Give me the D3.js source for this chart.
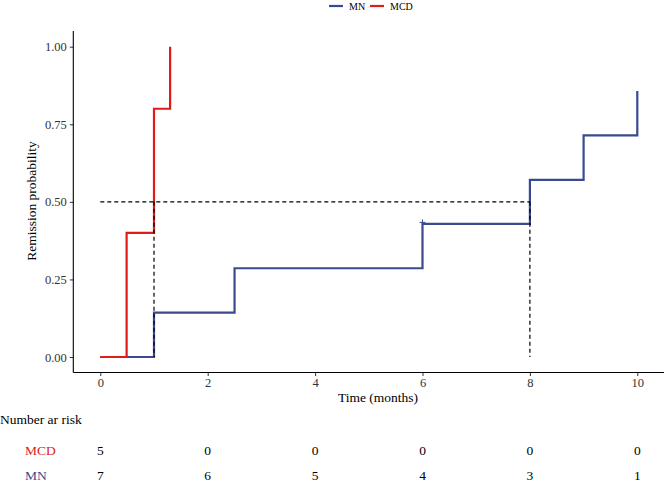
<!DOCTYPE html>
<html>
<head>
<meta charset="utf-8">
<script src="https://cdn.jsdelivr.net/npm/d3@7"></script>
<style>
  body { margin: 0; background: #fff; }
</style>
</head>
<body>
<div id="km"></div>
<script>
// data
var groups = ["MN", "MCD"];
var colors = ["#3B4992", "#E01B1B"];

var mnTime = [0, 1.0, 2.5, 6.0, 8.0, 9.0, 10.0];
var mnProb = [0, 0.143, 0.286, 0.429, 0.571, 0.714, 0.857];
var mcdTime = [0, 0.49, 1.0, 1.3];
var mcdProb = [0, 0.4, 0.8, 1.0];

var censorTime = [6.0];
var censorProb = [0.429];

var medianTime = [1.0, 8.0];
var medianProb = 0.5;

var xTicks = [0, 2, 4, 6, 8, 10];
var yTicks = [0, 0.25, 0.5, 0.75, 1];

var riskTimes = [0, 2, 4, 6, 8, 10];
var riskMCD = [5, 0, 0, 0, 0, 0];
var riskMN = [7, 6, 5, 4, 3, 1];

// dimensions
var width = 669, height = 486;
var panel = {left: 73.3, right: 664, top: 31, bottom: 372.5};
var serif = "'Liberation Serif', 'Times New Roman', 'DejaVu Serif', serif";

var svg = d3.select("#km")
  .append("svg")
    .attr("width", width)
    .attr("height", height)
    .attr("font-family", serif)
    .style("font-family", serif);

var x = d3.scaleLinear()
  .domain([0, 10])
  .range([100.3, 637.3]);

var y = d3.scaleLinear()
  .domain([0, 1])
  .range([357, 46.7]);

// axes
var xAxis = svg.append("g")
    .attr("transform", "translate(0," + panel.bottom + ")")
    .call(d3.axisBottom(x).tickValues(xTicks).tickSize(3.5).tickSizeOuter(0).tickPadding(2));
xAxis.select(".domain").remove();
xAxis.attr("font-family", serif);
xAxis.selectAll("line").attr("stroke", "#333");
xAxis.selectAll("text")
    .attr("font-size", 12.5)
    .attr("fill", "#333");

var yAxis = svg.append("g")
    .attr("transform", "translate(" + panel.left + ",0)")
    .call(d3.axisLeft(y).tickValues(yTicks).tickFormat(d3.format(".2f")).tickSize(3.5).tickSizeOuter(0).tickPadding(3));
yAxis.select(".domain").remove();
yAxis.attr("font-family", serif);
yAxis.selectAll("line").attr("stroke", "#333");
yAxis.selectAll("text")
    .attr("font-size", 12.5)
    .attr("fill", "#333");

svg.append("line")
    .attr("x1", panel.left).attr("x2", panel.right)
    .attr("y1", panel.bottom).attr("y2", panel.bottom)
    .attr("stroke", "#000").attr("stroke-width", 1.1);
svg.append("line")
    .attr("x1", panel.left).attr("x2", panel.left)
    .attr("y1", panel.top).attr("y2", panel.bottom)
    .attr("stroke", "#000").attr("stroke-width", 1.1);

// axis titles
svg.append("text")
    .attr("x", 378)
    .attr("y", 402)
    .attr("text-anchor", "middle")
    .attr("font-size", 13.5)
    .text("Time (months)");

svg.append("text")
    .attr("transform", "translate(36,201) rotate(-90)")
    .attr("text-anchor", "middle")
    .attr("font-size", 13.5)
    .text("Remission probability");

// step curves
var step = d3.line()
  .x(function(d) { return x(d[0]); })
  .y(function(d) { return y(d[1]); })
  .curve(d3.curveStepAfter);

var curves = [d3.zip(mnTime, mnProb), d3.zip(mcdTime, mcdProb)];

svg.selectAll("path.km")
  .data(curves)
  .enter()
  .append("path")
    .attr("class", "km")
    .attr("d", step)
    .attr("fill", "none")
    .attr("stroke", function(d, i) { return colors[i]; })
    .attr("stroke-width", 2.2);

// censor mark
svg.selectAll("path.censor")
  .data(d3.zip(censorTime, censorProb))
  .enter()
  .append("path")
    .attr("class", "censor")
    .attr("transform", function(d) { return "translate(" + x(d[0]) + "," + (y(d[1]) - 1.5) + ")"; })
    .attr("d", "M-3,0H3M0,-3V3")
    .attr("stroke", colors[0])
    .attr("stroke-width", 1);

// median lines
svg.append("line")
    .attr("x1", x(0)).attr("x2", x(d3.max(medianTime)))
    .attr("y1", y(medianProb)).attr("y2", y(medianProb))
    .attr("stroke", "#000").attr("stroke-width", 1.2)
    .attr("stroke-dasharray", "4,3");

svg.selectAll("line.median")
  .data(medianTime)
  .enter()
  .append("line")
    .attr("class", "median")
    .attr("x1", function(d) { return x(d); })
    .attr("x2", function(d) { return x(d); })
    .attr("y1", y(medianProb))
    .attr("y2", y(0))
    .attr("stroke", "#000").attr("stroke-width", 1.2)
    .attr("stroke-dasharray", "4,3");

// legend
var legendX = [329, 370];
var legend = svg.selectAll("g.legend")
  .data(groups)
  .enter()
  .append("g")
    .attr("class", "legend")
    .attr("transform", function(d, i) { return "translate(" + legendX[i] + ",6)"; });
legend.append("line")
    .attr("x1", 0).attr("x2", 14)
    .attr("stroke", function(d, i) { return colors[i]; })
    .attr("stroke-width", 2.2);
legend.append("text")
    .attr("x", 20)
    .attr("y", 3.5)
    .attr("font-size", 10)
    .text(function(d) { return d; });

// risk table
svg.append("text")
    .attr("x", 0)
    .attr("y", 424)
    .attr("font-size", 13.5)
    .text("Number ar risk");

var rows = [
  {name: "MCD", color: colors[1], values: riskMCD, yy: 455},
  {name: "MN", color: colors[0], values: riskMN, yy: 480}
];

rows.forEach(function(r) {
  svg.append("text")
      .attr("x", 25)
      .attr("y", r.yy)
      .attr("font-size", 13.5)
      .attr("fill", r.color)
      .text(r.name);
  svg.selectAll("text.risk-" + r.name)
    .data(r.values)
    .enter()
    .append("text")
      .attr("class", "risk-" + r.name)
      .attr("x", function(d, i) { return x(riskTimes[i]); })
      .attr("y", r.yy)
      .attr("text-anchor", "middle")
      .attr("font-size", 13.5)
      .text(function(d) { return d; });
});
</script>
</body>
</html>
